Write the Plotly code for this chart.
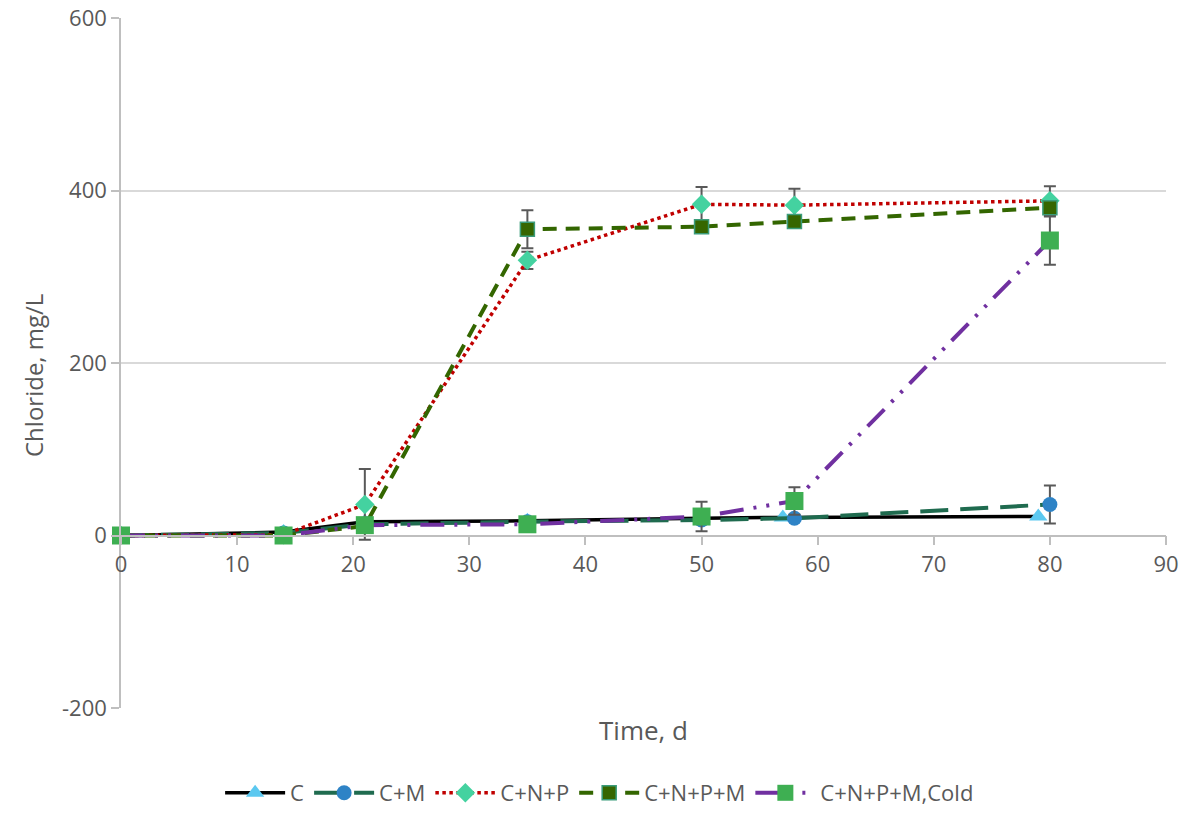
import plotly.graph_objects as go

# ---- data ----
x_c = [0, 14, 21, 35, 50, 57, 79]
y_c = [0, 4, 16, 17, 20, 21, 22]

x_cm = [0, 14, 21, 35, 50, 58, 80]
y_cm = [0, 3, 13, 16, 18, 20, 36]
e_cm = [0, 0, 2, 2, 3, 3, 22]

x_cnp = [0, 14, 21, 35, 50, 58, 80]
y_cnp = [0, 1, 36, 319, 384, 383, 388]
e_cnp = [0, 0, 41, 10, 20, 19, 17]

x_cnpm = [0, 14, 21, 35, 50, 58, 80]
y_cnpm = [0, 0, 11, 355, 358, 364, 380]
e_cnpm = [0, 0, 3, 22, 4, 5, 6]

x_cold = [0, 14, 21, 35, 50, 58, 80]
y_cold = [0, 0, 12, 13, 22, 40, 342]
e_cold = [0, 0, 2, 2, 17, 16, 28]

x_ticks = [0, 10, 20, 30, 40, 50, 60, 70, 80, 90]
y_ticks = [-200, 0, 200, 400, 600]

FONT = "Open Sans"
TXT = "#595959"
ERR = dict(type="data", symmetric=True, color="#595959", thickness=2, width=6)

fig = go.Figure()

fig.add_trace(go.Scatter(
    x=x_c, y=y_c, name="C", mode="lines+markers",
    line=dict(color="#000000", width=3.5),
    marker=dict(symbol="triangle-up", size=16, color="#5BC8F0"),
    cliponaxis=False))

fig.add_trace(go.Scatter(
    x=x_cm, y=y_cm, name="C+M", mode="lines+markers",
    line=dict(color="#1F6B4F", width=4, dash="28px,12px"),
    marker=dict(symbol="circle", size=15, color="#2E83C6"),
    error_y=dict(array=e_cm, **ERR),
    cliponaxis=False))

fig.add_trace(go.Scatter(
    x=x_cnp, y=y_cnp, name="C+N+P", mode="lines+markers",
    line=dict(color="#C00000", width=3.5, dash="dot"),
    marker=dict(symbol="diamond", size=15, color="#44D2A0"),
    error_y=dict(array=e_cnp, **ERR),
    cliponaxis=False))

fig.add_trace(go.Scatter(
    x=x_cnpm, y=y_cnpm, name="C+N+P+M", mode="lines+markers",
    line=dict(color="#336600", width=4, dash="14px,9px"),
    marker=dict(symbol="square", size=14, color="#366600",
                line=dict(color="#3B9C7A", width=1.5)),
    error_y=dict(array=e_cnpm, **ERR),
    cliponaxis=False))

fig.add_trace(go.Scatter(
    x=x_cold, y=y_cold, name="C+N+P+M,Cold", mode="lines+markers",
    line=dict(color="#7030A0", width=4, dash="24px,10px,3px,10px,3px,10px"),
    marker=dict(symbol="square", size=18, color="#3EAF52"),
    error_y=dict(array=e_cold, **ERR),
    cliponaxis=False))

fig.update_layout(
    width=1187, height=814,
    margin=dict(l=121, r=21, t=18, b=106, autoexpand=False),
    paper_bgcolor="white", plot_bgcolor="white",
    font=dict(family=FONT, size=22, color=TXT),
    showlegend=True,
    legend=dict(orientation="h", x=0.458, xanchor="center",
                yref="container", y=0.0, yanchor="bottom",
                font=dict(family=FONT, size=22, color=TXT), itemwidth=60,
                bgcolor="rgba(0,0,0,0)"),
    xaxis=dict(range=[0, 90], tickvals=x_ticks, ticktext=[str(v) for v in x_ticks],
               showgrid=False, zeroline=False, showline=True, linecolor="#BFBFBF", linewidth=1.5,
               ticks="outside", ticklen=9, tickcolor="#BFBFBF", tickwidth=1.5,
               anchor="free", position=0.25, automargin=False,
               tickfont=dict(family=FONT, size=22, color=TXT)),
    yaxis=dict(range=[-200, 600], tickvals=y_ticks, ticktext=[str(v) for v in y_ticks],
               showgrid=True, gridcolor="#D9D9D9", gridwidth=1.5, zeroline=False,
               showline=True, linecolor="#BFBFBF", linewidth=1.5,
               ticks="outside", ticklen=8, tickcolor="#BFBFBF", tickwidth=1.5,
               automargin=False,
               tickfont=dict(family=FONT, size=22, color=TXT)),
    annotations=[
        dict(text="Time, d", xref="paper", yref="paper", x=(643 - 121) / 1045, y=(708 - 730) / 690,
             xanchor="center", yanchor="middle", showarrow=False,
             font=dict(family=FONT, size=26, color=TXT)),
        dict(text="Chloride, mg/L", xref="paper", yref="paper", x=(33 - 121) / 1045, y=(708 - 376) / 690,
             xanchor="center", yanchor="middle", showarrow=False, textangle=-90,
             font=dict(family=FONT, size=24, color=TXT)),
    ],
)

fig.write_html("out.html")
